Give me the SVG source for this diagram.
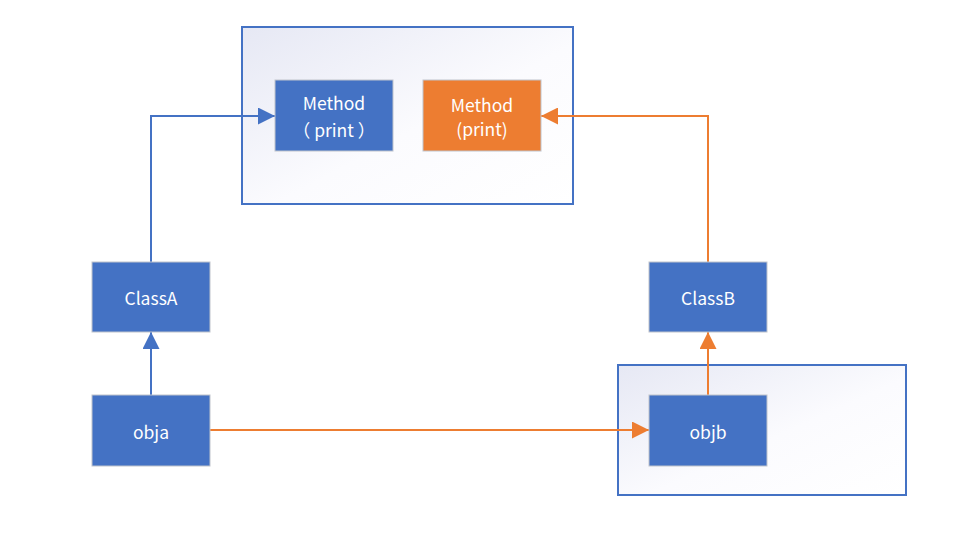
<svg xmlns="http://www.w3.org/2000/svg" width="957" height="550" viewBox="0 0 957 550">
  <defs>
    <linearGradient id="frameFill" x1="0" y1="0" x2="1" y2="1">
      <stop offset="0" stop-color="#E6E8F4"/>
      <stop offset="0.55" stop-color="#FBFBFE"/>
      <stop offset="1" stop-color="#FFFFFF"/>
    </linearGradient>
    <marker id="arrowBlue" viewBox="0 0 10 10" refX="10" refY="5" markerWidth="9" markerHeight="8.5" markerUnits="strokeWidth" orient="auto">
      <path d="M0,0 L10,5 L0,10 Z" fill="#4472C4"/>
    </marker>
    <marker id="arrowOrange" viewBox="0 0 10 10" refX="10" refY="5" markerWidth="9" markerHeight="8.5" markerUnits="strokeWidth" orient="auto">
      <path d="M0,0 L10,5 L0,10 Z" fill="#ED7D31"/>
    </marker>
  </defs>
  <style>
    .frame { fill: url(#frameFill); stroke: #4472C4; stroke-width: 2; }
    .node { stroke: #BFC4CC; stroke-width: 1; }
    .blue { fill: #4472C4; }
    .orange { fill: #ED7D31; }
    .label { fill: #FFFFFF; font-family: "Noto Sans CJK SC", "Noto Sans", "Liberation Sans", sans-serif; font-size: 17.5px; text-anchor: middle; dominant-baseline: central; }
    .edge { fill: none; stroke-width: 2; }
    .eb { stroke: #4472C4; marker-end: url(#arrowBlue); }
    .eo { stroke: #ED7D31; marker-end: url(#arrowOrange); }
  </style>

  <rect width="957" height="550" fill="#FFFFFF"/>

  <!-- container frames -->
  <rect id="methodFrame" class="frame" x="242" y="27" width="331" height="177"/>
  <rect id="objbFrame" class="frame" x="618" y="365" width="288" height="130"/>

  <g id="connectors">
    <polyline class="edge eb" points="151,262 151,116 275,116"/>
    <polyline class="edge eo" points="708,262 708,116 541,116"/>
    <line class="edge eb" x1="151" y1="395" x2="151" y2="332"/>
    <line class="edge eo" x1="708" y1="395" x2="708" y2="332"/>
    <line class="edge eo" x1="210" y1="430" x2="649" y2="430"/>
  </g>

  <g id="methodA">
    <rect class="node blue" x="275" y="80" width="118" height="71"/>
    <text class="label" x="334" y="102">Method</text>
    <!-- full-width brackets, padded like the wide glyph boxes -->
    <text class="label" x="334" y="129">（<tspan dx="4">print</tspan><tspan dx="4">）</tspan></text>
  </g>
  <g id="methodB">
    <rect class="node orange" x="423" y="80" width="118" height="71"/>
    <text class="label" x="482" y="104">Method</text>
    <text class="label" x="482" y="128">(print)</text>
  </g>
  <g id="classA">
    <rect class="node blue" x="92" y="262" width="118" height="70"/>
    <text class="label" x="151" y="297">ClassA</text>
  </g>
  <g id="classB">
    <rect class="node blue" x="649" y="262" width="118" height="70"/>
    <text class="label" x="708" y="297">ClassB</text>
  </g>
  <g id="obja">
    <rect class="node blue" x="92" y="395" width="118" height="71"/>
    <text class="label" x="151" y="431">obja</text>
  </g>
  <g id="objb">
    <rect class="node blue" x="649" y="395" width="118" height="71"/>
    <text class="label" x="708" y="431">objb</text>
  </g>
</svg>
